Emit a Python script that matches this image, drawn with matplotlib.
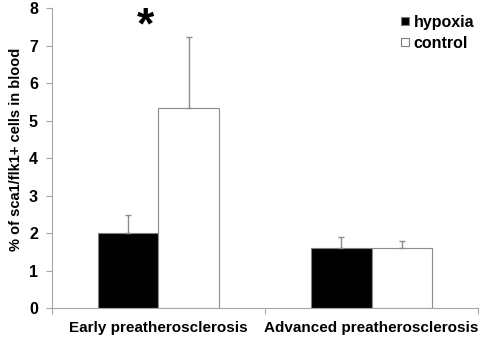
import numpy as np
import matplotlib.pyplot as plt
from matplotlib.lines import Line2D

plt.rcParams['font.family'] = ['Liberation Sans', 'DejaVu Sans']
plt.rcParams['font.weight'] = 'bold'

# data
groups = ["Early preatherosclerosis", "Advanced preatherosclerosis"]
hypoxia = [2.0, 1.6]
hypoxia_err = [0.5, 0.3]
control = [5.33, 1.6]
control_err = [1.9, 0.2]

grey = '#a6a6a6'
x = np.arange(len(groups))
w = 0.284

fig = plt.figure(figsize=(4.8, 3.37), dpi=100)
ax = fig.add_axes([0.108, 0.085, 0.888, 0.891])

err_kw = dict(ecolor='#8c8c8c', elinewidth=1.0, capsize=2, capthick=1.0)
ax.bar(x - w/2, hypoxia, w, color='black', edgecolor='#808080', linewidth=0.8,
       yerr=[np.zeros(2), hypoxia_err], error_kw=err_kw)
ax.bar(x + w/2, control, w, color='white', edgecolor='#8c8c8c', linewidth=0.8,
       yerr=[np.zeros(2), control_err], error_kw=err_kw)

ax.text(-0.06, 7.5, '*', fontsize=32, fontweight='bold', ha='center', va='center')

ax.set_xlim(-0.5, 1.5)
ax.set_ylim(0, 8)
ax.set_yticks(range(9))
ax.set_xticks([-0.5, 0.5, 1.5])
ax.set_xticklabels([])
ax.set_xticks(x, minor=True)
ax.set_xticklabels(groups, minor=True, fontsize=11, fontweight='bold')
ax.tick_params(axis='x', which='minor', length=0, pad=9)
ax.tick_params(axis='x', which='major', length=4, color=grey, direction='out')
ax.tick_params(axis='y', length=4, color=grey, labelsize=11.5, pad=6)
for lab in ax.get_yticklabels():
    lab.set_fontweight('bold')

for s in ['top', 'right']:
    ax.spines[s].set_visible(False)
for s in ['left', 'bottom']:
    ax.spines[s].set_color(grey)
    ax.spines[s].set_linewidth(0.8)

ax.set_ylabel("% of sca1/flk1+ cells in blood", fontsize=10.5, fontweight='bold')
ax.yaxis.set_label_coords(-0.068, 0.53)

handles = [Line2D([], [], ls='', marker='s', ms=5.5, mfc='black', mec='#808080', mew=0.8),
           Line2D([], [], ls='', marker='s', ms=5.5, mfc='white', mec='#808080', mew=0.8)]
ax.legend(handles, ['hypoxia', 'control'], loc='upper right', frameon=False,
          fontsize=11.5, handlelength=0.5, handletextpad=0.3, labelspacing=0.35,
          bbox_to_anchor=(1.025, 1.025))

fig.savefig('out.png', dpi=100)
